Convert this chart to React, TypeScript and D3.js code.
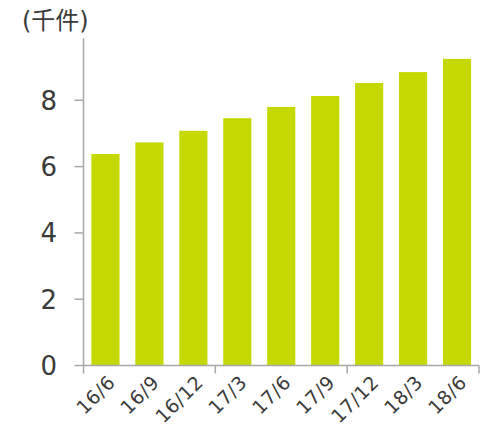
import { useEffect, useRef } from "react";
import * as d3 from "d3";

const categories = ["16/6", "16/9", "16/12", "17/3", "17/6", "17/9", "17/12", "18/3", "18/6"];
const values = [6.38, 6.73, 7.08, 7.46, 7.8, 8.13, 8.52, 8.85, 9.25];
const yTicks = [0, 2, 4, 6, 8];
const unitLabel = "(千件)";

const W = 486;
const H = 428;
const FONT = "DejaVu Sans";
const CJK = "DejaVu Sans, Noto Sans CJK JP";

export default function App() {
  const svgRef = useRef<SVGSVGElement | null>(null);

  useEffect(() => {
    if (!svgRef.current) return;
    const svg = d3.select(svgRef.current);
    svg.selectAll("*").remove();

    const left = 83.5;
    const right = 479;
    const bottom = 365.5;
    const top = 38.3;
    const axisColor = "#a8a8a8";

    const x = d3
      .scaleBand<string>()
      .domain(categories)
      .range([left, right])
      .paddingInner(0.36)
      .paddingOuter(0.18);

    const y = d3.scaleLinear().domain([0, 9.87]).range([bottom, top]);

    // bars
    svg
      .selectAll("rect.bar")
      .data(values)
      .join("rect")
      .attr("class", "bar")
      .attr("x", (_, i) => x(categories[i])!)
      .attr("width", x.bandwidth())
      .attr("y", (d) => y(d))
      .attr("height", (d) => y(0) - y(d))
      .attr("fill", "#c5d800");

    // y axis
    svg
      .append("line")
      .attr("x1", left)
      .attr("x2", left)
      .attr("y1", y.range()[1])
      .attr("y2", y(0))
      .attr("stroke", axisColor)
      .attr("stroke-width", 1.5);

    svg
      .selectAll("line.ytick")
      .data(yTicks)
      .join("line")
      .attr("class", "ytick")
      .attr("x1", left - 9)
      .attr("x2", left)
      .attr("y1", (d) => y(d))
      .attr("y2", (d) => y(d))
      .attr("stroke", axisColor)
      .attr("stroke-width", 1.5);

    svg
      .selectAll("text.ylab")
      .data(yTicks)
      .join("text")
      .attr("class", "ylab")
      .attr("x", 57)
      .attr("y", (d) => y(d))
      .attr("dy", "0.36em")
      .attr("text-anchor", "end")
      .attr("font-family", FONT)
      .attr("font-size", 26)
      .attr("fill", "#3a3a3a")
      .text((d) => String(d));

    // x axis
    svg
      .append("line")
      .attr("x1", left)
      .attr("x2", right)
      .attr("y1", bottom)
      .attr("y2", bottom)
      .attr("stroke", axisColor)
      .attr("stroke-width", 1.5);

    const gap = (x.step() - x.bandwidth()) / 2;
    const edges = [0, 3, 6, 9].map((i) =>
      i < categories.length ? x(categories[i])! - gap : x(categories[categories.length - 1])! + x.bandwidth() + gap
    );
    svg
      .selectAll("line.xtick")
      .data(edges)
      .join("line")
      .attr("class", "xtick")
      .attr("x1", (d) => d)
      .attr("x2", (d) => d)
      .attr("y1", bottom)
      .attr("y2", bottom + 8)
      .attr("stroke", axisColor)
      .attr("stroke-width", 1.5);

    svg
      .selectAll("text.xlab")
      .data(categories)
      .join("text")
      .attr("class", "xlab")
      .attr("text-anchor", "end")
      .attr("font-family", FONT)
      .attr("font-size", 19)
      .attr("letter-spacing", 0.6)
      .attr("fill", "#3a3a3a")
      .attr("transform", (d) => {
        const cx = x(d)! + x.bandwidth() / 2 + 11;
        return `translate(${cx},${bottom + 18}) rotate(-45)`;
      })
      .text((d) => d);

    // unit label
    svg
      .append("text")
      .attr("x", 22)
      .attr("y", 29)
      .attr("font-family", CJK)
      .attr("font-size", 24)
      .attr("fill", "#3a3a3a")
      .text(unitLabel);
  }, []);

  return (
    <svg
      ref={svgRef}
      width={W}
      height={H}
      style={{ position: "absolute", left: 0, top: 0, background: "#fff" }}
    />
  );
}
